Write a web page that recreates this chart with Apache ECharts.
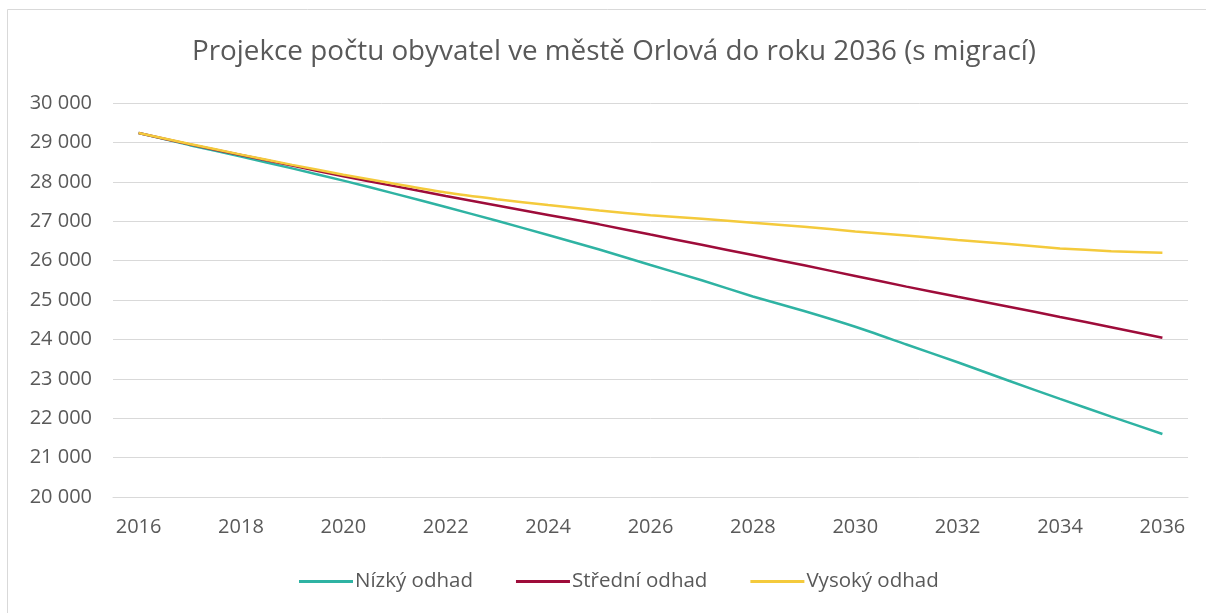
<!DOCTYPE html>
<html>
<head>
<meta charset="utf-8">
<script src="https://cdn.jsdelivr.net/npm/echarts@6/dist/echarts.min.js"></script>
<style>
html,body{margin:0;padding:0;background:#fff;}
#c{width:1206px;height:613px;}
</style>
</head>
<body>
<div id="c"></div>
<script>
const years = ['2016','2017','2018','2019','2020','2021','2022','2023','2024','2025','2026','2027','2028','2029','2030','2031','2032','2033','2034','2035','2036'];
const nizky = [29240,28930,28640,28340,28030,27700,27360,27010,26650,26280,25890,25500,25090,24720,24320,23870,23420,22950,22490,22040,21600];
const stredni = [29240,28950,28680,28410,28140,27890,27640,27400,27160,26920,26660,26400,26140,25880,25610,25340,25080,24830,24570,24310,24040];
const vysoky = [29240,28960,28690,28430,28180,27950,27730,27560,27410,27270,27150,27060,26960,26860,26740,26640,26520,26420,26310,26240,26200];
const seriesNames = ['Nízký odhad','Střední odhad','Vysoký odhad'];
const colors = ['#2fb3a3','#9e0c3a','#f4ca3c'];

const chart = echarts.init(document.getElementById('c'));
const font = '"Open Sans", sans-serif';
function fmt(v){ return String(v).replace(/\B(?=(\d{3})+(?!\d))/g,' '); }
chart.setOption({
  animation:false,
  backgroundColor:'#fff',
  graphic:[{type:'rect',shape:{x:7.5,y:9.5,width:1300,height:700},style:{fill:'none',stroke:'#d9d9d9',lineWidth:1},silent:true}],
  title:{text:'Projekce počtu obyvatel ve městě Orlová do roku 2036 (s migrací)',left:187,top:33,
    textStyle:{fontFamily:font,fontSize:27.8,fontWeight:'normal',color:'#595959'}},
  grid:{left:113,right:18,top:103,bottom:116},
  legend:{bottom:16,left:294,itemWidth:54,itemHeight:3,itemGap:43,icon:'rect',
    textStyle:{fontFamily:font,fontSize:20.5,color:'#595959',padding:[0,0,0,-3]},
    data:seriesNames},
  xAxis:{type:'category',data:years,boundaryGap:true,
    axisLine:{lineStyle:{color:'#d9d9d9',width:1}},axisTick:{show:false},
    axisLabel:{interval:1,margin:20,fontFamily:font,fontSize:20,color:'#595959'}},
  yAxis:{type:'value',min:20000,max:30000,interval:1000,
    axisLine:{show:false},axisTick:{show:false},
    splitLine:{lineStyle:{color:'#d9d9d9',width:1}},
    axisLabel:{margin:21,fontFamily:font,fontSize:20,color:'#595959',formatter:fmt}},
  series:[
    {name:seriesNames[0],type:'line',data:nizky,showSymbol:false,smooth:0.2,lineStyle:{width:2.5,color:colors[0]},itemStyle:{color:colors[0]}},
    {name:seriesNames[1],type:'line',data:stredni,showSymbol:false,smooth:0.2,lineStyle:{width:2.5,color:colors[1]},itemStyle:{color:colors[1]}},
    {name:seriesNames[2],type:'line',data:vysoky,showSymbol:false,smooth:0.2,lineStyle:{width:2.5,color:colors[2]},itemStyle:{color:colors[2]}}
  ]
});
</script>
</body>
</html>
